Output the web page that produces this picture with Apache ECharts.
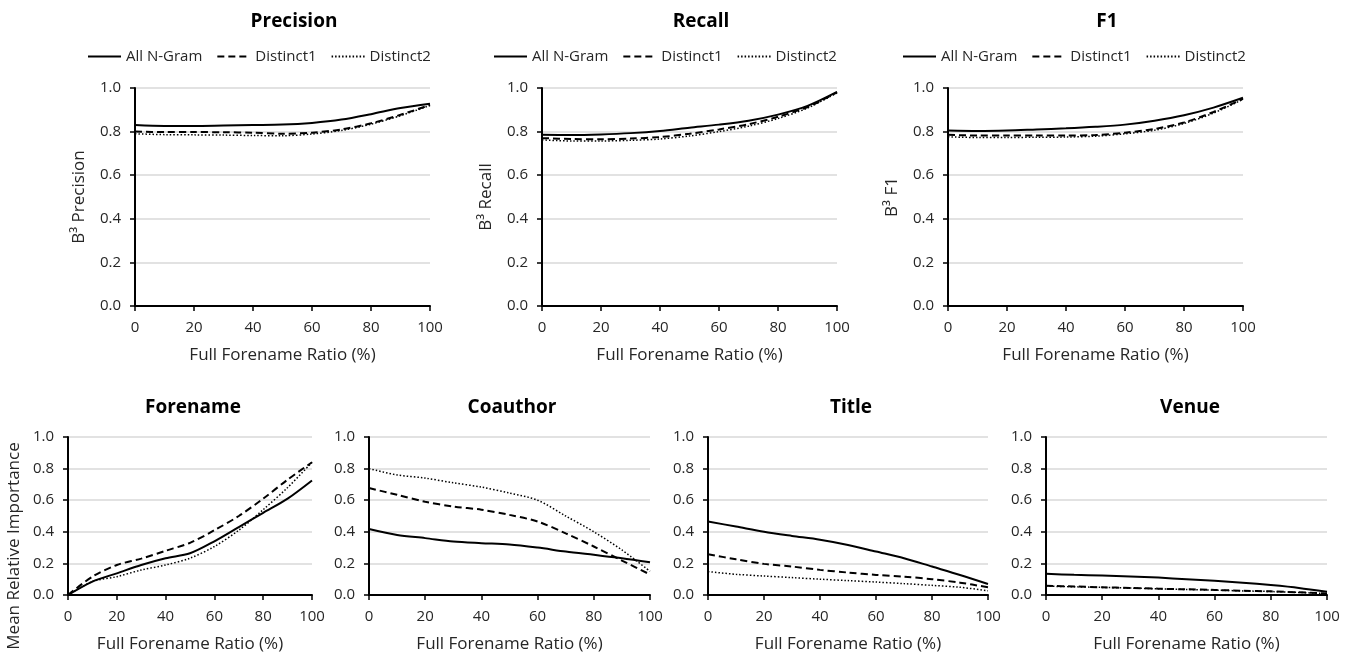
<!DOCTYPE html>
<html>
<head>
<meta charset="utf-8">
<script src="https://cdn.jsdelivr.net/npm/echarts@6/dist/echarts.min.js"></script>
<style>
  html, body { margin: 0; padding: 0; background: #fff; }
  #main { width: 1354px; height: 656px; }
</style>
</head>
<body>
<div id="main"></div>
<script>
// x positions (full forename ratio, %)
var ratio = [0, 10, 20, 30, 40, 50, 60, 70, 80, 90, 100];
var seriesNames = ['All N-Gram', 'Distinct1', 'Distinct2'];

// top row: B3 scores
var precisionAll = [0.83, 0.826, 0.826, 0.828, 0.83, 0.832, 0.84, 0.855, 0.88, 0.908, 0.928];
var precisionD1  = [0.80, 0.798, 0.798, 0.797, 0.795, 0.79, 0.795, 0.81, 0.838, 0.877, 0.922];
var precisionD2  = [0.79, 0.786, 0.785, 0.784, 0.782, 0.781, 0.789, 0.805, 0.834, 0.873, 0.92];

var recallAll = [0.785, 0.784, 0.787, 0.793, 0.803, 0.818, 0.832, 0.85, 0.878, 0.918, 0.982];
var recallD1  = [0.77, 0.766, 0.765, 0.768, 0.775, 0.79, 0.81, 0.834, 0.868, 0.913, 0.98];
var recallD2  = [0.762, 0.757, 0.757, 0.76, 0.766, 0.78, 0.80, 0.825, 0.86, 0.908, 0.978];

var f1All = [0.805, 0.803, 0.805, 0.81, 0.815, 0.822, 0.832, 0.85, 0.875, 0.91, 0.955];
var f1D1  = [0.785, 0.782, 0.782, 0.782, 0.782, 0.784, 0.795, 0.812, 0.842, 0.89, 0.95];
var f1D2  = [0.776, 0.773, 0.773, 0.774, 0.775, 0.779, 0.79, 0.806, 0.837, 0.885, 0.948];

// bottom row: mean relative importance
var forenameAll = [0, 0.085, 0.137, 0.19, 0.233, 0.264, 0.34, 0.43, 0.52, 0.61, 0.725];
var forenameD1  = [0, 0.116, 0.19, 0.23, 0.28, 0.33, 0.41, 0.50, 0.61, 0.73, 0.84];
var forenameD2  = [0, 0.085, 0.116, 0.158, 0.19, 0.233, 0.307, 0.41, 0.54, 0.68, 0.84];

var coauthorAll = [0.418, 0.38, 0.36, 0.338, 0.328, 0.32, 0.30, 0.275, 0.254, 0.233, 0.207];
var coauthorD1  = [0.677, 0.634, 0.59, 0.56, 0.54, 0.507, 0.465, 0.39, 0.307, 0.218, 0.13];
var coauthorD2  = [0.80, 0.76, 0.74, 0.71, 0.683, 0.645, 0.60, 0.50, 0.40, 0.285, 0.15];

var titleAll = [0.465, 0.433, 0.40, 0.374, 0.35, 0.317, 0.275, 0.233, 0.18, 0.127, 0.07];
var titleD1  = [0.258, 0.226, 0.197, 0.18, 0.159, 0.142, 0.127, 0.116, 0.10, 0.078, 0.049];
var titleD2  = [0.148, 0.131, 0.12, 0.11, 0.10, 0.091, 0.082, 0.072, 0.061, 0.049, 0.027];

var venueAll = [0.134, 0.128, 0.123, 0.117, 0.11, 0.10, 0.09, 0.078, 0.063, 0.045, 0.02];
var venueD1  = [0.058, 0.054, 0.049, 0.045, 0.04, 0.036, 0.032, 0.027, 0.023, 0.017, 0.01];
var venueD2  = [0.056, 0.052, 0.048, 0.044, 0.039, 0.035, 0.031, 0.026, 0.022, 0.016, 0.009];

var FONT = 'Open Sans';
var TXT = '#262626';

var panels = [
  { title: 'Precision', yName: 'B\u00b3 Precision', data: [precisionAll, precisionD1, precisionD2], grid: [135, 88, 295, 218], tx: 289, ty: 7 },
  { title: 'Recall', yName: 'B\u00b3 Recall', data: [recallAll, recallD1, recallD2], grid: [542, 88, 295, 218], tx: 696, ty: 7 },
  { title: 'F1', yName: 'B\u00b3 F1', data: [f1All, f1D1, f1D2], grid: [948, 88, 295, 218], tx: 1102, ty: 7 },
  { title: 'Forename', yName: '', data: [forenameAll, forenameD1, forenameD2], grid: [68, 437, 244, 158], tx: 188, ty: 393 },
  { title: 'Coauthor', yName: '', data: [coauthorAll, coauthorD1, coauthorD2], grid: [369, 437, 281, 158], tx: 507, ty: 393 },
  { title: 'Title', yName: '', data: [titleAll, titleD1, titleD2], grid: [708, 437, 280, 158], tx: 846, ty: 393 },
  { title: 'Venue', yName: '', data: [venueAll, venueD1, venueD2], grid: [1046, 437, 281, 158], tx: 1185, ty: 393 }
];

var lineStyles = [
  { color: '#000', width: 2, type: 'solid' },
  { color: '#000', width: 2, type: [7, 4] },
  { color: '#000', width: 1.5, type: [1.5, 2] }
];

function zip(xs, ys) {
  return xs.map(function (x, i) { return [x, ys[i]]; });
}

var titles = [], grids = [], xAxes = [], yAxes = [], series = [];

panels.forEach(function (p, i) {
  titles.push({
    text: p.title, left: p.tx, top: p.ty, textAlign: 'center',
    textStyle: { fontFamily: FONT, fontWeight: 'bold', fontSize: 19, color: '#000' }
  });
  grids.push({ left: p.grid[0], top: p.grid[1], width: p.grid[2], height: p.grid[3] });
  xAxes.push({
    gridIndex: i, type: 'value', min: 0, max: 100, interval: 20,
    name: 'Full Forename Ratio (%)', nameLocation: 'middle', nameGap: 41,
    nameTextStyle: { fontFamily: FONT, fontSize: 17, color: TXT },
    axisLine: { lineStyle: { color: '#000', width: 2 } },
    axisTick: { show: true, length: 5, lineStyle: { color: '#000', width: 1.5 } },
    axisLabel: { fontFamily: FONT, fontSize: 15, color: TXT, margin: 14 },
    splitLine: { show: false }
  });
  yAxes.push({
    gridIndex: i, type: 'value', min: 0, max: 1, interval: 0.2,
    name: p.yName, nameLocation: 'middle', nameGap: 47,
    nameTextStyle: { fontFamily: FONT, fontSize: 17, color: TXT },
    axisLine: { show: true, lineStyle: { color: '#000', width: 2 } },
    axisTick: { show: true, length: 5, lineStyle: { color: '#000', width: 1.5 } },
    axisLabel: { fontFamily: FONT, fontSize: 15, color: TXT, margin: 14,
      formatter: function (v) { return v.toFixed(1); } },
    splitLine: { show: true, lineStyle: { color: '#d9d9d9', width: 1.5 } }
  });
  p.data.forEach(function (ys, k) {
    series.push({
      name: seriesNames[k], type: 'line', xAxisIndex: i, yAxisIndex: i,
      data: zip(ratio, ys), smooth: 0.3, symbol: 'none', color: '#000',
      lineStyle: lineStyles[k], z: 3 - k
    });
  });
});

var legendBase = {
  data: seriesNames, top: 49, padding: 0, itemWidth: 33, itemHeight: 14, itemGap: 14,
  itemStyle: { opacity: 0 },
  textStyle: { fontFamily: FONT, fontSize: 15, color: TXT },
  selectedMode: false
};
var legends = [87, 493, 902].map(function (x) {
  return Object.assign({}, legendBase, { left: x });
});

var chart = echarts.init(document.getElementById('main'));
chart.setOption({
  animation: false,
  backgroundColor: '#fff',
  title: titles,
  legend: legends,
  grid: grids,
  xAxis: xAxes,
  yAxis: yAxes,
  series: series,
  graphic: [{
    type: 'text', x: 14, y: 546, rotation: Math.PI / 2,
    style: { text: 'Mean Relative Importance', fontFamily: FONT, fontSize: 17, fill: TXT,
      align: 'center', verticalAlign: 'middle' }
  }]
});
</script>
</body>
</html>
